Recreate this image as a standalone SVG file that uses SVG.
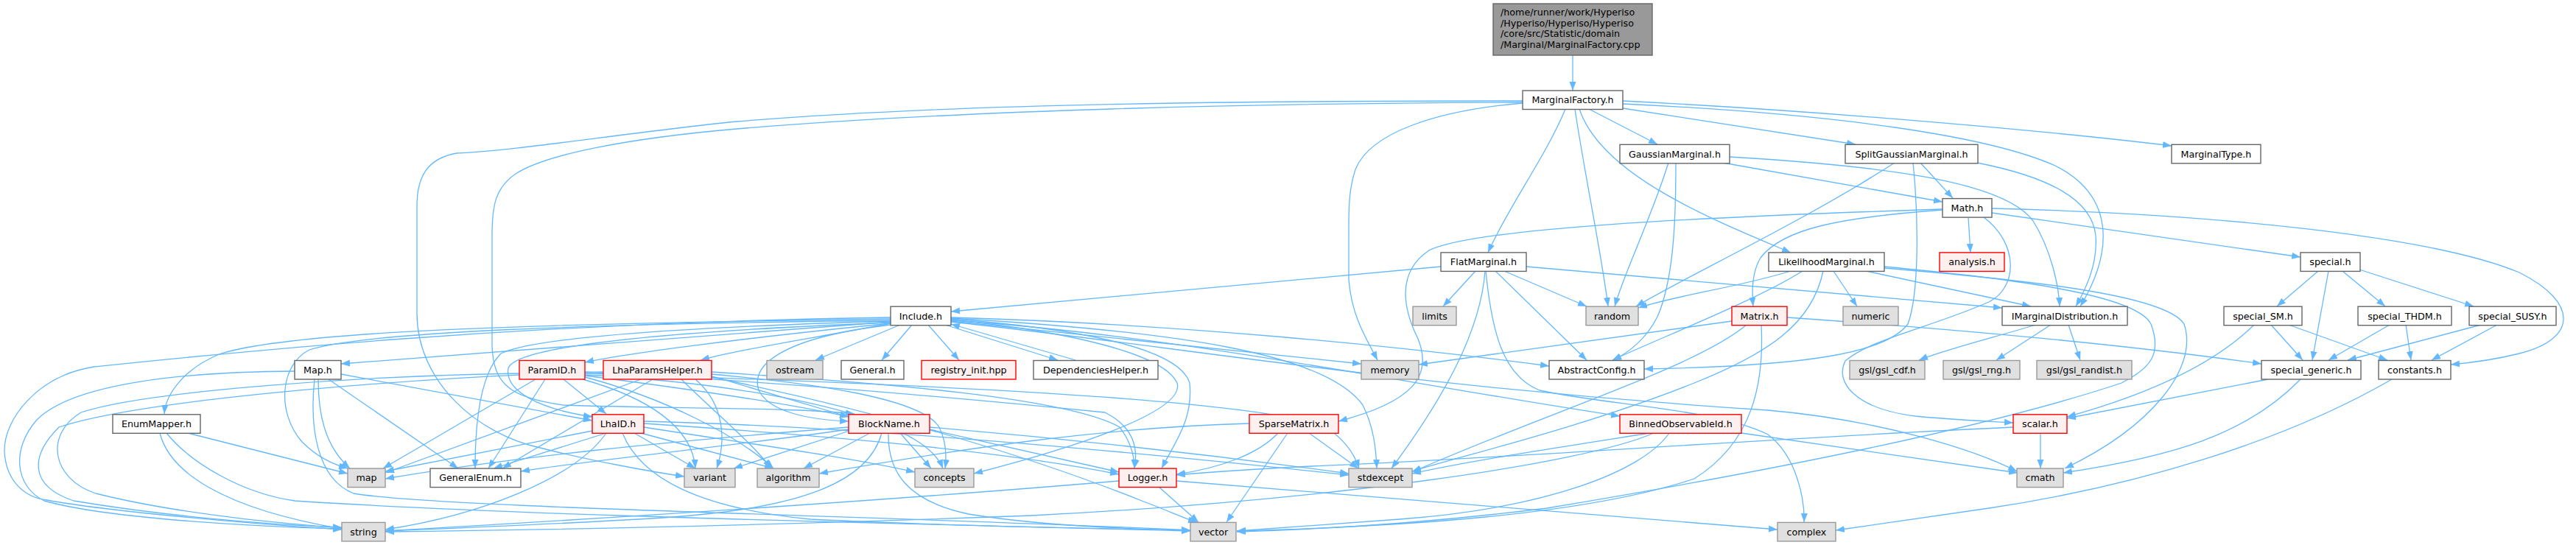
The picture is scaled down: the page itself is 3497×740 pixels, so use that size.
<svg xmlns="http://www.w3.org/2000/svg" width="3497" height="740" viewBox="0 0 3497 740">
<defs>
<style>
.n rect{fill:#ffffff;stroke:#666666;stroke-width:1.4}
.g rect{fill:#e0e0e0;stroke:#999999;stroke-width:1.4}
.r rect{fill:#fff0f0;stroke:#ff0000;stroke-width:1.4}
.top rect{fill:#999999;stroke:#666666;stroke-width:1.4}
text{font-family:"DejaVu Sans",Verdana,sans-serif;font-size:12.7px;fill:#000000}
.c{text-anchor:middle}
#edges path{fill:none;stroke:#63b8ff;stroke-width:1.3;marker-end:url(#ah)}
</style>
<marker id="ah" markerUnits="userSpaceOnUse" markerWidth="13" markerHeight="10" refX="12" refY="4.5" orient="auto" viewBox="0 0 13 9"><path d="M0,0 L12,4.5 L0,9 z" fill="#63b8ff"/></marker>
</defs>
<rect width="3497" height="740" fill="#ffffff"/>
<g id="edges">
<path d="M2135,75 L2135,123"/>
<path d="M2125,148 C2100,210 2045,285 2020,343"/>
<path d="M2138,148 C2150,230 2175,350 2183,416"/>
<path d="M2144,148 C2175,240 2330,300 2431,343"/>
<path d="M2157,148 L2250,196"/>
<path d="M2203,147 L2519,196"/>
<path d="M2203,137 C2500,152 2800,180 2948,198"/>
<path d="M2203,141 C2500,155 2700,185 2790,225 C2870,265 2870,340 2824,416"/>
<path d="M2067,140 C1950,150 1860,180 1840,230 C1830,260 1831,290 1831,320 L1831,380 C1835,430 1855,460 1870,489"/>
<path d="M2067,137 C1700,137 1300,140 1000,165 C850,180 700,205 620,208 C580,215 566,240 566,280 L566,425 C566,520 650,590 733,608 C800,625 880,640 929,647"/>
<path d="M2067,139 C1700,140 1300,150 1000,175 C850,188 740,210 700,236 C672,255 668,280 668,320 L668,470 C670,520 690,540 765,550 C900,555 1080,553 1160,562"/>
<path d="M2265,221 C2240,300 2205,370 2192,416"/>
<path d="M2275,221 C2275,300 2272,380 2250,430 C2235,460 2210,480 2189,489"/>
<path d="M2339,221 L2637,274"/>
<path d="M2348,213 C2550,225 2720,245 2760,300 C2785,340 2795,390 2796,416"/>
<path d="M2572,221 C2450,300 2280,380 2221,416"/>
<path d="M2607,221 L2651,269"/>
<path d="M2597,221 C2605,300 2605,400 2590,440 C2560,480 2450,497 2232,501"/>
<path d="M2684,221 C2780,240 2840,270 2845,320 C2848,360 2830,395 2818,416"/>
<path d="M2672,295 L2675,343"/>
<path d="M2704,289 L3123,349"/>
<path d="M2704,283 C3000,290 3300,320 3420,370 C3500,410 3500,460 3420,480 C3380,490 3350,493 3327,495"/>
<path d="M2637,285 C2500,295 2420,310 2390,350 C2378,370 2378,395 2380,416"/>
<path d="M2637,284 C2300,295 2000,310 1940,340 C1895,370 1905,420 1925,460 C1945,510 1920,545 1817,572"/>
<path d="M2693,295 C2740,330 2740,390 2700,410 C2620,445 2540,460 2505,490 C2490,520 2520,555 2600,565 C2650,570 2700,572 2733,574"/>
<path d="M1956,362 L1291,423"/>
<path d="M2003,368 L1959,416"/>
<path d="M2042,368 L2154,416"/>
<path d="M2030,368 L2154,489"/>
<path d="M2072,362 L2718,418"/>
<path d="M2016,368 C2010,450 1960,540 1889,636"/>
<path d="M2017,368 C2025,450 2040,510 2090,530 C2180,550 2330,555 2400,590 C2440,620 2450,680 2449,709"/>
<path d="M2431,368 C2360,390 2280,400 2224,418"/>
<path d="M2447,368 C2380,410 2250,460 2189,489"/>
<path d="M2489,368 L2521,416"/>
<path d="M2533,368 L2757,416"/>
<path d="M2475,368 C2460,440 2400,480 2300,520 C2150,580 1980,620 1917,640"/>
<path d="M2558,364 C2750,380 2940,400 2965,440 C2985,500 2920,580 2803,636"/>
<path d="M2558,362 C2730,378 2900,400 2920,440 C2935,480 2920,500 2880,520 C2700,580 2400,640 2100,690 C1900,715 1750,720 1679,722"/>
<path d="M2351,436 L1926,495"/>
<path d="M2371,441 C2300,500 2100,560 1917,641"/>
<path d="M2391,441 C2395,520 2380,600 2300,650 C2150,700 1900,715 1679,721"/>
<path d="M2426,431 C2700,450 2900,470 3070,494"/>
<path d="M2764,441 C2700,460 2640,475 2605,489"/>
<path d="M2784,441 L2710,489"/>
<path d="M2808,441 L2824,489"/>
<path d="M3147,368 L3091,416"/>
<path d="M3161,368 L3139,489"/>
<path d="M3180,368 L3238,416"/>
<path d="M3203,366 L3358,416"/>
<path d="M3083,441 L3126,489"/>
<path d="M3107,441 L3241,489"/>
<path d="M3060,441 C3000,500 2900,540 2806,566"/>
<path d="M3244,441 L3161,489"/>
<path d="M3266,441 L3273,489"/>
<path d="M3368,441 L3187,489"/>
<path d="M3390,441 L3301,489"/>
<path d="M3079,515 L2806,568"/>
<path d="M3123,515 C3050,590 2950,620 2801,642"/>
<path d="M3247,515 C3100,600 2900,660 2700,690 C2600,705 2530,715 2492,720"/>
<path d="M1222,441 L1107,489"/>
<path d="M1238,441 L1197,489"/>
<path d="M1260,441 L1302,489"/>
<path d="M1283,441 L1436,489"/>
<path d="M1460,489 L1291,440"/>
<path d="M1209,439 C1100,460 1000,475 951,489"/>
<path d="M1291,436 L1848,494"/>
<path d="M1291,433 C1450,445 1600,470 1615,520 C1620,570 1595,600 1577,636"/>
<path d="M1291,434 C1450,450 1580,480 1598,520 C1610,560 1450,610 1322,643"/>
<path d="M1291,432 C1600,450 1800,480 1850,550 C1865,580 1868,610 1869,636"/>
<path d="M1209,441 C1050,460 1020,500 1030,530 C1045,560 1100,570 1152,572"/>
<path d="M1291,431 C1600,440 1900,470 2103,497"/>
<path d="M1291,435 C1600,455 1900,520 2199,565"/>
<path d="M1209,433 C700,440 400,450 300,480 C250,500 225,535 223,562"/>
<path d="M1209,431 C700,438 300,480 128,498 C50,510 5,570 6,613 C8,650 30,675 64,679 C150,695 350,712 464,719"/>
<path d="M1209,435 C800,440 500,450 420,475 C380,495 375,560 410,600 C430,620 450,630 472,636"/>
<path d="M1209,437 L463,494"/>
<path d="M1209,439 C1000,460 850,480 794,492"/>
<path d="M1209,436 C900,445 720,460 680,480 C650,510 645,580 645,636"/>
<path d="M1209,438 C900,450 700,470 690,500 C685,530 730,555 804,566"/>
<path d="M1291,437 C1600,470 1900,525 2400,557 C2550,570 2680,610 2738,640"/>
<path d="M400,504 C250,505 100,520 50,570 C15,610 20,660 60,680 C150,705 350,715 464,718"/>
<path d="M432,515 C432,560 440,605 475,636"/>
<path d="M446,515 L622,636"/>
<path d="M463,508 L804,571"/>
<path d="M427,515 C420,580 430,650 480,670 C600,690 1200,700 1616,720"/>
<path d="M255,588 L472,643"/>
<path d="M217,588 C230,640 300,690 464,718"/>
<path d="M226,588 C260,630 330,670 400,680 C700,700 1200,710 1616,721"/>
<path d="M727,515 L520,636"/>
<path d="M740,515 L663,636"/>
<path d="M765,515 L823,562"/>
<path d="M705,507 C500,510 200,530 110,560 C60,590 70,650 130,670 C250,700 400,712 464,717"/>
<path d="M791,515 C880,540 940,580 944,636"/>
<path d="M794,510 C950,530 1080,550 1152,566"/>
<path d="M794,512 C900,540 1000,590 1050,636"/>
<path d="M794,505 C1100,520 1400,550 1500,560 C1540,580 1545,610 1540,636"/>
<path d="M794,507 C1200,520 1700,540 1800,580 C1830,600 1840,620 1845,636"/>
<path d="M794,509 C1000,520 1250,560 1280,636"/>
<path d="M870,515 L523,642"/>
<path d="M886,515 L682,636"/>
<path d="M944,515 C985,550 985,600 973,636"/>
<path d="M964,510 L1152,566"/>
<path d="M925,515 C970,560 1020,600 1047,636"/>
<path d="M966,505 C1200,520 1450,540 1520,580 C1535,600 1540,620 1540,636"/>
<path d="M966,508 C1100,520 1250,540 1275,580 C1285,600 1285,620 1283,636"/>
<path d="M966,512 C1200,560 1400,620 1550,680 C1590,695 1610,705 1625,709"/>
<path d="M819,505 C600,510 200,540 80,580 C40,620 40,660 100,680 C250,705 400,714 464,716"/>
<path d="M823,588 C780,650 650,700 523,719"/>
<path d="M804,585 L523,640"/>
<path d="M823,588 L670,636"/>
<path d="M861,588 L944,636"/>
<path d="M870,588 L1050,636"/>
<path d="M874,580 C1000,600 1150,620 1242,641"/>
<path d="M874,575 C1100,590 1350,610 1519,644"/>
<path d="M874,572 C1200,580 1600,620 1831,645"/>
<path d="M845,588 C870,650 950,690 1100,705 C1300,715 1500,718 1616,720"/>
<path d="M1153,585 L996,636"/>
<path d="M1181,588 L1091,636"/>
<path d="M1222,588 L1264,636"/>
<path d="M1206,588 C1205,640 1230,680 1315,698 C1400,712 1520,718 1616,720"/>
<path d="M1262,583 L1519,641"/>
<path d="M1197,588 C1180,650 1100,690 900,703 C750,712 600,718 523,721"/>
<path d="M1152,580 C900,600 700,620 523,650"/>
<path d="M1152,583 C1000,605 800,625 707,640"/>
<path d="M1262,580 C1500,600 1700,625 1831,643"/>
<path d="M1777,588 L1844,636"/>
<path d="M1748,588 L1665,709"/>
<path d="M1735,588 C1710,615 1660,635 1597,644"/>
<path d="M1696,575 C1500,580 1300,610 1112,643"/>
<path d="M1573,661 L1627,709"/>
<path d="M1519,653 C1200,680 800,705 523,721"/>
<path d="M1597,653 C1800,670 2100,695 2413,719"/>
<path d="M2240,588 C2100,610 2000,625 1917,643"/>
<path d="M2266,588 C2230,640 2100,690 1900,705 C1800,712 1720,718 1679,721"/>
<path d="M2245,588 C2150,630 1800,680 1400,700 C1000,715 700,720 523,722"/>
<path d="M2364,588 L2739,642"/>
<path d="M2770,588 L2770,636"/>
<path d="M2733,580 C2400,595 2000,625 1780,633 C1700,637 1640,641 1597,645"/>
</g>
<g id="n-top" class="top"><rect x="2027" y="5" width="216" height="70"/><text x="2037" y="21">/home/runner/work/Hyperiso</text><text x="2037" y="35.7">/Hyperiso/Hyperiso/Hyperiso</text><text x="2037" y="50.4">/core/src/Statistic/domain</text><text x="2037" y="65.1">/Marginal/MarginalFactory.cpp</text></g>
<g id="n-MarginalFactory" class="n"><rect x="2067" y="123" width="136" height="25.5"/><text class="c" x="2135" y="140.3">MarginalFactory.h</text></g>
<g id="n-GaussianMarginal" class="n"><rect x="2199" y="196.3" width="149" height="25.5"/><text class="c" x="2273.5" y="213.6">GaussianMarginal.h</text></g>
<g id="n-SplitGaussianMarginal" class="n"><rect x="2505" y="196.3" width="180" height="25.5"/><text class="c" x="2595" y="213.6">SplitGaussianMarginal.h</text></g>
<g id="n-MarginalType" class="n"><rect x="2948" y="196.3" width="121" height="25.5"/><text class="c" x="3008.5" y="213.6">MarginalType.h</text></g>
<g id="n-Math" class="n"><rect x="2637" y="269.6" width="67" height="25.5"/><text class="c" x="2670.5" y="286.9">Math.h</text></g>
<g id="n-FlatMarginal" class="n"><rect x="1956" y="342.9" width="116" height="25.5"/><text class="c" x="2014" y="360.2">FlatMarginal.h</text></g>
<g id="n-LikelihoodMarginal" class="n"><rect x="2401" y="342.9" width="157" height="25.5"/><text class="c" x="2479.5" y="360.2">LikelihoodMarginal.h</text></g>
<g id="n-analysis" class="r"><rect x="2633" y="342.9" width="88" height="25.5"/><text class="c" x="2677" y="360.2">analysis.h</text></g>
<g id="n-special" class="n"><rect x="3123" y="342.9" width="81" height="25.5"/><text class="c" x="3163.5" y="360.2">special.h</text></g>
<g id="n-Include" class="n"><rect x="1209" y="416.2" width="82" height="25.5"/><text class="c" x="1250" y="433.5">Include.h</text></g>
<g id="n-limits" class="g"><rect x="1918" y="416.2" width="59" height="25.5"/><text class="c" x="1947.5" y="433.5">limits</text></g>
<g id="n-random" class="g"><rect x="2153" y="416.2" width="71" height="25.5"/><text class="c" x="2188.5" y="433.5">random</text></g>
<g id="n-Matrix" class="r"><rect x="2351" y="416.2" width="75" height="25.5"/><text class="c" x="2388.5" y="433.5">Matrix.h</text></g>
<g id="n-numeric" class="g"><rect x="2502" y="416.2" width="75" height="25.5"/><text class="c" x="2539.5" y="433.5">numeric</text></g>
<g id="n-IMarginalDistribution" class="n"><rect x="2718" y="416.2" width="170" height="25.5"/><text class="c" x="2803" y="433.5">IMarginalDistribution.h</text></g>
<g id="n-special_SM" class="n"><rect x="3019" y="416.2" width="106" height="25.5"/><text class="c" x="3072" y="433.5">special_SM.h</text></g>
<g id="n-special_THDM" class="n"><rect x="3201" y="416.2" width="127" height="25.5"/><text class="c" x="3264.5" y="433.5">special_THDM.h</text></g>
<g id="n-special_SUSY" class="n"><rect x="3352" y="416.2" width="118" height="25.5"/><text class="c" x="3411" y="433.5">special_SUSY.h</text></g>
<g id="n-Map" class="n"><rect x="400" y="489.5" width="63" height="25.5"/><text class="c" x="431.5" y="506.8">Map.h</text></g>
<g id="n-ParamID" class="r"><rect x="705" y="489.5" width="89" height="25.5"/><text class="c" x="749.5" y="506.8">ParamID.h</text></g>
<g id="n-LhaParamsHelper" class="r"><rect x="819" y="489.5" width="147" height="25.5"/><text class="c" x="892.5" y="506.8">LhaParamsHelper.h</text></g>
<g id="n-ostream" class="g"><rect x="1041" y="489.5" width="76" height="25.5"/><text class="c" x="1079" y="506.8">ostream</text></g>
<g id="n-General" class="n"><rect x="1142" y="489.5" width="85" height="25.5"/><text class="c" x="1184.5" y="506.8">General.h</text></g>
<g id="n-registry_init" class="r"><rect x="1251" y="489.5" width="128" height="25.5"/><text class="c" x="1315" y="506.8">registry_init.hpp</text></g>
<g id="n-DependenciesHelper" class="n"><rect x="1403" y="489.5" width="169" height="25.5"/><text class="c" x="1487.5" y="506.8">DependenciesHelper.h</text></g>
<g id="n-memory" class="g"><rect x="1848" y="489.5" width="78" height="25.5"/><text class="c" x="1887" y="506.8">memory</text></g>
<g id="n-AbstractConfig" class="n"><rect x="2103" y="489.5" width="129" height="25.5"/><text class="c" x="2167.5" y="506.8">AbstractConfig.h</text></g>
<g id="n-gsl_cdf" class="g"><rect x="2511" y="489.5" width="102" height="25.5"/><text class="c" x="2562" y="506.8">gsl/gsl_cdf.h</text></g>
<g id="n-gsl_rng" class="g"><rect x="2638" y="489.5" width="104" height="25.5"/><text class="c" x="2690" y="506.8">gsl/gsl_rng.h</text></g>
<g id="n-gsl_randist" class="g"><rect x="2765" y="489.5" width="129" height="25.5"/><text class="c" x="2829.5" y="506.8">gsl/gsl_randist.h</text></g>
<g id="n-special_generic" class="n"><rect x="3070" y="489.5" width="135" height="25.5"/><text class="c" x="3137.5" y="506.8">special_generic.h</text></g>
<g id="n-constants" class="n"><rect x="3229" y="489.5" width="98" height="25.5"/><text class="c" x="3278" y="506.8">constants.h</text></g>
<g id="n-EnumMapper" class="n"><rect x="153" y="562.8" width="119" height="25.5"/><text class="c" x="212.5" y="580.1">EnumMapper.h</text></g>
<g id="n-LhaID" class="r"><rect x="804" y="562.8" width="70" height="25.5"/><text class="c" x="839" y="580.1">LhaID.h</text></g>
<g id="n-BlockName" class="r"><rect x="1152" y="562.8" width="110" height="25.5"/><text class="c" x="1207" y="580.1">BlockName.h</text></g>
<g id="n-SparseMatrix" class="r"><rect x="1696" y="562.8" width="121" height="25.5"/><text class="c" x="1756.5" y="580.1">SparseMatrix.h</text></g>
<g id="n-BinnedObservableId" class="r"><rect x="2199" y="562.8" width="165" height="25.5"/><text class="c" x="2281.5" y="580.1">BinnedObservableId.h</text></g>
<g id="n-scalar" class="r"><rect x="2733" y="562.8" width="73" height="25.5"/><text class="c" x="2769.5" y="580.1">scalar.h</text></g>
<g id="n-map" class="g"><rect x="472" y="636.1" width="51" height="25.5"/><text class="c" x="497.5" y="653.4">map</text></g>
<g id="n-GeneralEnum" class="n"><rect x="584" y="636.1" width="123" height="25.5"/><text class="c" x="645.5" y="653.4">GeneralEnum.h</text></g>
<g id="n-variant" class="g"><rect x="929" y="636.1" width="69" height="25.5"/><text class="c" x="963.5" y="653.4">variant</text></g>
<g id="n-algorithm" class="g"><rect x="1028" y="636.1" width="84" height="25.5"/><text class="c" x="1070" y="653.4">algorithm</text></g>
<g id="n-concepts" class="g"><rect x="1242" y="636.1" width="80" height="25.5"/><text class="c" x="1282" y="653.4">concepts</text></g>
<g id="n-Logger" class="r"><rect x="1519" y="636.1" width="78" height="25.5"/><text class="c" x="1558" y="653.4">Logger.h</text></g>
<g id="n-stdexcept" class="g"><rect x="1831" y="636.1" width="86" height="25.5"/><text class="c" x="1874" y="653.4">stdexcept</text></g>
<g id="n-cmath" class="g"><rect x="2738" y="636.1" width="63" height="25.5"/><text class="c" x="2769.5" y="653.4">cmath</text></g>
<g id="n-string" class="g"><rect x="464" y="709.4" width="59" height="25.5"/><text class="c" x="493.5" y="726.7">string</text></g>
<g id="n-vector" class="g"><rect x="1616" y="709.4" width="62" height="25.5"/><text class="c" x="1647" y="726.7">vector</text></g>
<g id="n-complex" class="g"><rect x="2413" y="709.4" width="79" height="25.5"/><text class="c" x="2452.5" y="726.7">complex</text></g>
</svg>
